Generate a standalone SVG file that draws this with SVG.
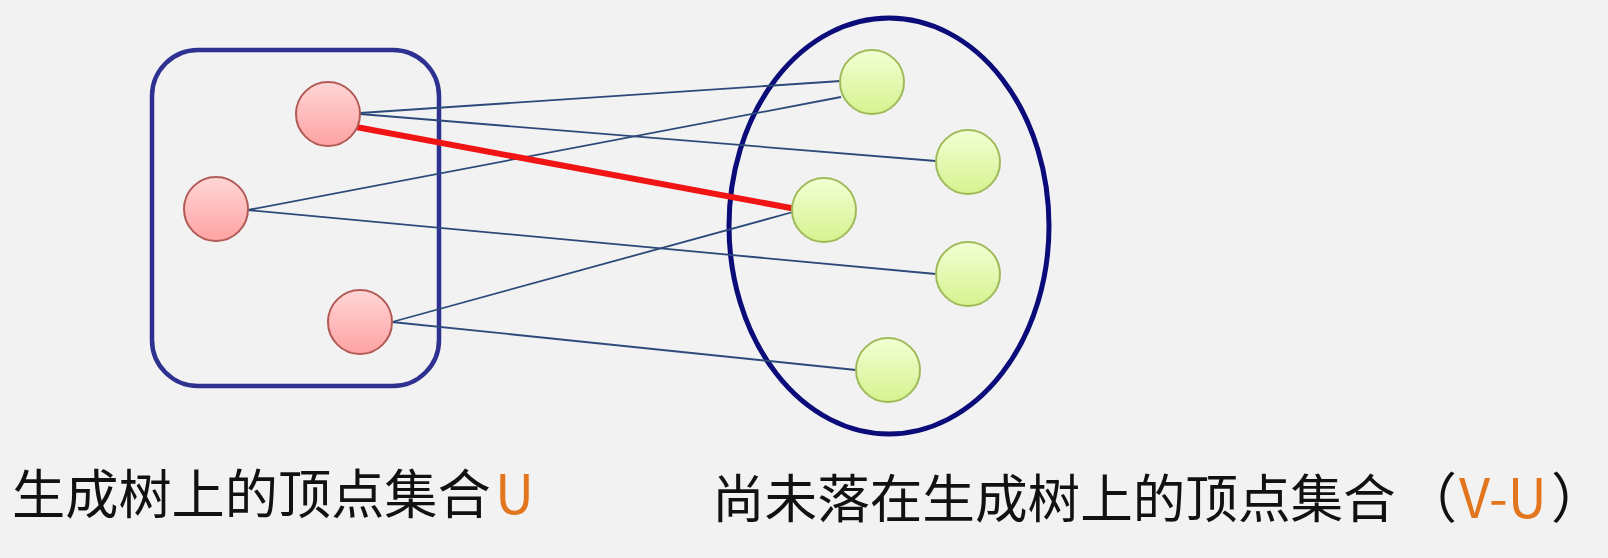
<svg xmlns="http://www.w3.org/2000/svg" width="1608" height="558" viewBox="0 0 1608 558">
<style>
.edge{stroke:#2b4a7a;stroke-width:1.8;fill:none}
.hot{stroke:#f01414;stroke-width:6;fill:none;stroke-linecap:butt}
.rn{fill:url(#gr);stroke:#b25a56;stroke-width:2}
.gn{fill:url(#gg);stroke:#9dbb5a;stroke-width:2}
.lbl{font-family:"Noto Sans CJK SC","Noto Sans",sans-serif;font-size:54px;fill:#111}
.or{fill:#e2761e}
</style>
<defs>
<linearGradient id="gr" x1="0" y1="0" x2="0" y2="1">
<stop offset="0" stop-color="#ffd6d6"/>
<stop offset="1" stop-color="#ffa2a2"/>
</linearGradient>
<linearGradient id="gg" x1="0" y1="0" x2="0" y2="1">
<stop offset="0" stop-color="#f3ffd4"/>
<stop offset="1" stop-color="#d6f28e"/>
</linearGradient>
</defs>
<rect width="1608" height="558" fill="#f2f2f2"/>
<g id="setU">
<rect x="152" y="50" width="287" height="336" rx="46" ry="46" fill="none" stroke="#2e3190" stroke-width="4.5"/>
</g>
<g id="setVU">
<ellipse cx="889" cy="226" rx="160" ry="208" fill="none" stroke="#0b0b7a" stroke-width="5"/>
</g>
<g id="connectors">
<line class="edge" x1="360" y1="113" x2="841" y2="81"/>
<line class="edge" x1="360" y1="114" x2="936" y2="161"/>
<line class="edge" x1="248" y1="210" x2="841" y2="97"/>
<line class="edge" x1="248" y1="210" x2="936" y2="274"/>
<line class="edge" x1="392" y1="322" x2="793" y2="212"/>
<line class="edge" x1="392" y1="322" x2="856" y2="370"/>
<line class="hot" x1="356" y1="127" x2="796" y2="209"/>
</g>
<g id="u1"><circle class="rn" cx="328" cy="114" r="32"/></g>
<g id="u2"><circle class="rn" cx="216" cy="209" r="32"/></g>
<g id="u3"><circle class="rn" cx="360" cy="322" r="32"/></g>
<g id="v1"><circle class="gn" cx="872" cy="82" r="32"/></g>
<g id="v2"><circle class="gn" cx="968" cy="162" r="32"/></g>
<g id="v3"><circle class="gn" cx="824" cy="210" r="32"/></g>
<g id="v4"><circle class="gn" cx="968" cy="274" r="32"/></g>
<g id="v5"><circle class="gn" cx="888" cy="370" r="32"/></g>
<g id="label-u">
<text class="lbl" x="12" y="514" style="font-size:53.2px">生成树上的顶点集合</text>
<text class="lbl or" x="495" y="514">U</text>
</g>
<g id="label-vu">
<text class="lbl" x="712" y="518" style="font-size:52.6px">尚未落在生成树上的顶点集合</text>
<text class="lbl" x="1403" y="518">（</text>
<text class="lbl or" x="1459" y="518">V-U</text>
<text class="lbl" x="1551" y="518">）</text>
</g>
</svg>
